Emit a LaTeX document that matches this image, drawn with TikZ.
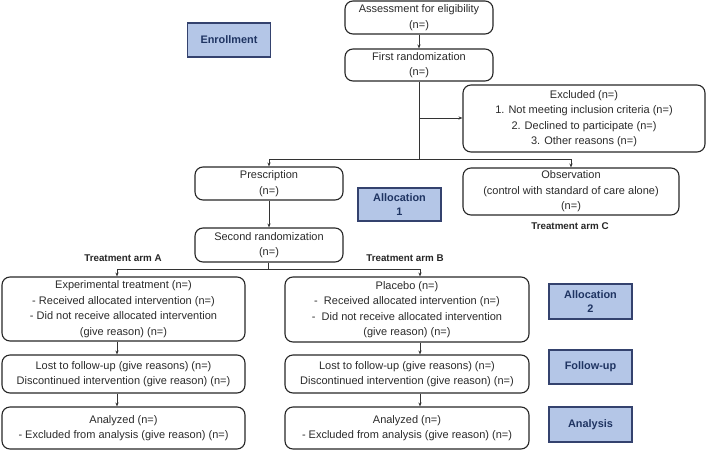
\documentclass[tikz,border=0pt]{standalone}
\usepackage{fontspec}
\setmainfont{Liberation Sans}
\usetikzlibrary{arrows.meta,positioning}
\definecolor{stagefill}{HTML}{B4C6E7}
\definecolor{stageline}{HTML}{34426E}
\definecolor{stagetext}{HTML}{1F3462}
\definecolor{boxtext}{HTML}{2A2A2A}

\begin{document}
\begin{tikzpicture}[
  x=1pt, y=-1pt,
  font=\fontsize{11}{15.5}\selectfont,
  box/.style={rectangle, draw=black!85, line width=1.1pt, rounded corners=8pt,
              align=center, inner sep=0pt, text=boxtext},
  stage/.style={rectangle, draw=stageline, line width=1.3pt, fill=stagefill,
                align=center, inner sep=0pt, text=stagetext,
                minimum width=83pt, font=\bfseries\fontsize{10.9}{14}\selectfont},
  armlbl/.style={font=\bfseries\fontsize{9.8}{11}\selectfont, text=black!85},
  line/.style={draw=black!80, line width=0.8pt},
  arr/.style={line, -{Stealth[length=4pt,width=3.2pt]}},
]
\useasboundingbox (0,0) rectangle (709,450);

% enrollment
\node[box, minimum width=148pt, minimum height=33pt] (assess) at (419,17.5)
  {Assessment for eligibility\\(n=)};
\node[box, minimum width=148pt, minimum height=32pt] (rand1) at (419,65)
  {First randomization\\(n=)};
\node[box, minimum width=242pt, minimum height=67pt] (excl) at (584,118.5)
  {Excluded (n=)\\1. Not meeting inclusion criteria (n=)\\2. Declined to participate (n=)\\3. Other reasons (n=)};

% allocation
\node[box, minimum width=148pt, minimum height=33pt] (presc) at (269,183.5)
  {Prescription\\(n=)};
\node[box, minimum width=216pt, minimum height=47pt] (obs) at (571,191.5)
  {Observation\\(control with standard of care alone)\\(n=)};
\node[armlbl] (armC) at (570,226) {Treatment arm C};
\node[box, minimum width=148pt, minimum height=34pt] (rand2) at (269,245)
  {Second randomization\\(n=)};
\node[armlbl] (armAlbl) at (123,258) {Treatment arm A};
\node[armlbl] (armBlbl) at (405,258) {Treatment arm B};

\node[box, minimum width=243pt, minimum height=64pt] (exptr) at (123.5,309)
  {Experimental treatment (n=)\\- Received allocated intervention (n=)\\- Did not receive allocated intervention\\(give reason) (n=)};
\node[box, minimum width=244pt, minimum height=65pt] (plac) at (407,309.5)
  {Placebo (n=)\\-\ \ Received allocated intervention (n=)\\-\ \ Did not receive allocated intervention\\(give reason) (n=)};

% follow-up and analysis
\node[box, minimum width=243pt, minimum height=38pt] (lostA) at (123.5,374)
  {Lost to follow-up (give reasons) (n=)\\Discontinued intervention (give reason) (n=)};
\node[box, minimum width=244pt, minimum height=38pt] (lostB) at (407,374)
  {Lost to follow-up (give reasons) (n=)\\Discontinued intervention (give reason) (n=)};
\node[box, minimum width=243pt, minimum height=42pt] (anaA) at (123.5,428)
  {Analyzed (n=)\\- Excluded from analysis (give reason) (n=)};
\node[box, minimum width=244pt, minimum height=42pt] (anaB) at (407,428)
  {Analyzed (n=)\\- Excluded from analysis (give reason) (n=)};

% stage labels
\node[stage, minimum height=34pt] (enroll) at (229,40) {Enrollment};
\node[stage, minimum height=33pt] (alloc1) at (399.5,204.5) {Allocation\\1};
\node[stage, minimum height=35pt] (alloc2) at (590.5,301.5) {Allocation\\2};
\node[stage, minimum height=34pt] (follow) at (590.5,367) {Follow-up};
\node[stage, minimum height=35pt] (analysis) at (590.5,424.5) {Analysis};

% connectors
\coordinate (tap) at (419,118);
\coordinate (split1) at (419,159);
\coordinate (split2) at (268,269);
\coordinate (armA) at (117,269);
\coordinate (armB) at (420,269);

\draw[arr] (assess) -- (rand1);
\draw[line] (rand1) -- (split1);
\draw[arr] (tap) -- (tap -| excl.west);
\draw[arr] (split1) -| (presc);
\draw[arr] (split1) -| (obs);
\draw[arr] (presc) -- (rand2);
\draw[line] (rand2.south -| split2) -- (split2);
\draw[line] (armA) -- (armB);
\draw[arr] (armA) -- (armA |- exptr.north);
\draw[arr] (armB) -- (armB |- plac.north);
\draw[arr] (exptr.south -| armA) -- (lostA.north -| armA);
\draw[arr] (plac.south -| armB) -- (lostB.north -| armB);
\draw[arr] (lostA.south -| armA) -- (anaA.north -| armA);
\draw[arr] (lostB.south -| armB) -- (anaB.north -| armB);
\end{tikzpicture}
\end{document}
